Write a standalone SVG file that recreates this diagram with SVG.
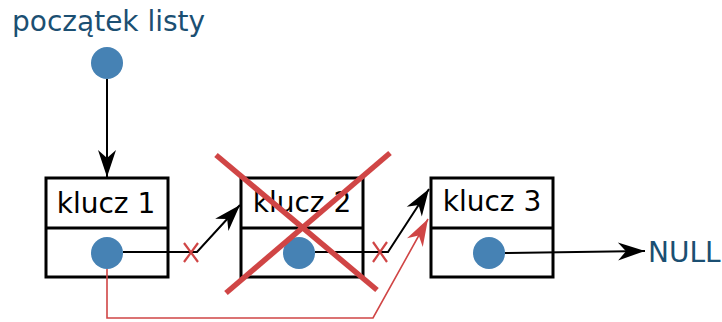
<svg xmlns="http://www.w3.org/2000/svg" width="722" height="322" viewBox="0 0 722 322">
  <style>
    .label { font-family: "DejaVu Sans", "Liberation Sans", sans-serif; font-size: 28px; }
    .key { fill: #000; text-anchor: middle; }
    .note { fill: #1b4f72; }
    .box { fill: #fff; stroke: #000; stroke-width: 3; }
    .dot { fill: #4682b4; }
    .link { fill: none; stroke: #000; stroke-width: 2; }
    .cut { fill: none; stroke: #d04545; stroke-width: 2.2; }
    .relink { fill: none; stroke: #d04545; stroke-width: 1.6; }
    .cross { stroke: #d04545; stroke-width: 5.5; }
  </style>
  <defs>
    <marker id="arrow" markerUnits="userSpaceOnUse" markerWidth="30" markerHeight="20" viewBox="-28 -10 30 20" refX="0" refY="0" orient="auto">
      <path d="M0,0 L-27,-9 L-19,0 L-27,9 z" fill="#000"/>
    </marker>
    <marker id="arrow-red" markerUnits="userSpaceOnUse" markerWidth="30" markerHeight="20" viewBox="-28 -10 30 20" refX="0" refY="0" orient="auto">
      <path d="M0,0 L-27,-9 L-19,0 L-27,9 z" fill="#d04545"/>
    </marker>
  </defs>

  <g id="head">
    <text class="label note" x="12" y="31">początek listy</text>
    <circle class="dot" cx="107" cy="63" r="16"/>
  </g>

  <g id="node1">
    <rect class="box" x="46" y="178" width="122" height="99"/>
    <line x1="46" y1="228" x2="168" y2="228" stroke="#000" stroke-width="3"/>
    <text class="label key" x="106" y="213">klucz 1</text>
    <circle class="dot" cx="107" cy="253" r="16"/>
  </g>

  <g id="node2">
    <rect class="box" x="241" y="178" width="122" height="99"/>
    <line x1="241" y1="228" x2="363" y2="228" stroke="#000" stroke-width="3"/>
    <text class="label key" x="302" y="212">klucz 2</text>
    <circle class="dot" cx="299" cy="253" r="16"/>
  </g>

  <g id="node3">
    <rect class="box" x="431" y="178" width="122" height="99"/>
    <line x1="431" y1="228" x2="553" y2="228" stroke="#000" stroke-width="3"/>
    <text class="label key" x="492" y="211">klucz 3</text>
    <circle class="dot" cx="489" cy="253" r="16"/>
  </g>

  <g id="null">
    <text class="label note" x="648" y="262">NULL</text>
  </g>

  <g id="connectors">
    <line class="link" x1="107" y1="79" x2="107" y2="177" marker-end="url(#arrow)"/>
    <polyline class="link" points="123,252 197,252 240,205" marker-end="url(#arrow)"/>
    <polyline class="link" points="315,252 388,252 429,189" marker-end="url(#arrow)"/>
    <line class="link" x1="505" y1="253" x2="645" y2="251" marker-end="url(#arrow)"/>
    <polyline class="relink" points="107,269 107,318 373,318 428,219" marker-end="url(#arrow-red)"/>
    <!-- broken links -->
    <path class="cut" d="M184,243 L198,262 M198,243 L184,262"/>
    <path class="cut" d="M373,242 L387,262 M387,242 L373,262"/>
  </g>

  <g id="removed">
    <line class="cross" x1="216" y1="155" x2="377" y2="290"/>
    <line class="cross" x1="390" y1="153" x2="226" y2="293"/>
  </g>
</svg>
